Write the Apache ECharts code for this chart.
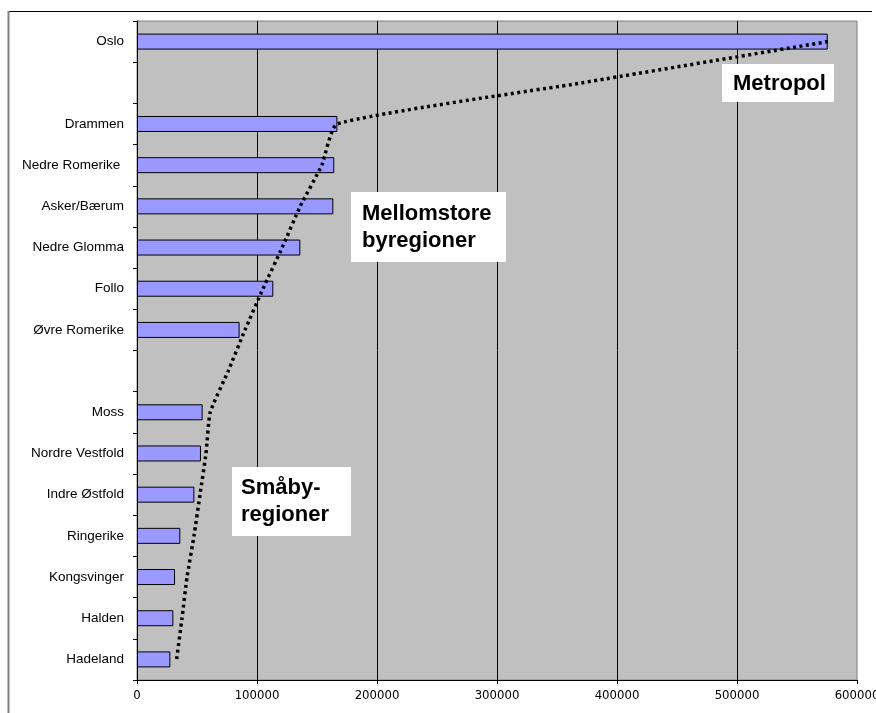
<!DOCTYPE html>
<html>
<head>
<meta charset="utf-8">
<script src="https://cdn.jsdelivr.net/npm/echarts@6/dist/echarts.min.js"></script>
<style>
html,body{margin:0;padding:0;background:#fff;overflow:hidden;}
#chart{width:876px;height:713px;}
</style>
</head>
<body>
<div id="chart"></div>
<script>
// Region names (blank strings are empty spacer rows)
var categories = ['Oslo', ' ', 'Drammen', 'Nedre Romerike ', 'Asker/Bærum', 'Nedre Glomma', 'Follo', 'Øvre Romerike', '  ', 'Moss', 'Nordre Vestfold', 'Indre Østfold', 'Ringerike', 'Kongsvinger', 'Halden', 'Hadeland'];
// Bar values
var population = [575600, null, 167000, 164400, 163600, 136100, 113600, 85500, null, 54700, 53300, 47800, 36100, 31700, 30300, 27800];
// Dotted trend curve values
var trend = [575800, 371000, 166700, 154000, 136000, 121000, 105000, 90000, 76000, 61000, 57500, 52500, 47500, 41700, 37500, 33000];
// X axis ticks
var xTicks = [0, 100000, 200000, 300000, 400000, 500000, 600000];
// Annotation texts
var labelMetropol = 'Metropol';
var labelMellom = 'Mellomstore\nbyregioner';
var labelSmaby = 'Småby-\nregioner';

var chart = echarts.init(document.getElementById('chart'), null, {renderer: 'canvas'});
var boxFont = {fontFamily: 'Liberation Sans, Arial, sans-serif', fontWeight: 'bold', fontSize: 22, lineHeight: 27, fill: '#000'};
function box(x, y, w, h, tx, ty, text) {
  return [
    {type: 'rect', shape: {x: x, y: y, width: w, height: h}, style: {fill: '#fff'}, z: 100},
    {type: 'text', x: tx, y: ty, z: 101, style: Object.assign({text: text, align: 'left', verticalAlign: 'top'}, boxFont)}
  ];
}
var option = {
  animation: false,
  backgroundColor: '#fff',
  grid: {left: 137, right: 19, top: 21, bottom: 33, containLabel: false, outerBoundsMode: 'none', show: true, backgroundColor: '#C0C0C0', borderColor: '#808080', borderWidth: 1},
  xAxis: {
    type: 'value', min: xTicks[0], max: xTicks[xTicks.length - 1], interval: xTicks[1] - xTicks[0],
    axisLine: {show: true, lineStyle: {color: '#000', width: 1}},
    axisTick: {show: true, length: 4, lineStyle: {color: '#000'}},
    axisLabel: {margin: 9, color: '#000', fontFamily: 'Liberation Sans Narrow, DejaVu Sans Condensed, sans-serif', fontSize: 13,
      formatter: function (v) { return String(v); }, showMaxLabel: true},
    splitLine: {show: true, showMinLine: false, showMaxLine: false, lineStyle: {color: '#000', width: 1}}
  },
  yAxis: {
    type: 'category', inverse: true, data: categories,
    axisLine: {show: true, lineStyle: {color: '#000', width: 1}},
    axisTick: {show: true, length: 4, lineStyle: {color: '#000'}},
    axisLabel: {margin: 13, color: '#000', fontFamily: 'Liberation Sans, Arial, sans-serif', fontSize: 13.5},
    splitLine: {show: false}
  },
  series: [
    {
      type: 'bar', data: population, barWidth: 16,
      itemStyle: {color: '#9999FF', borderColor: '#000', borderWidth: 1},
      z: 2
    },
    {
      type: 'line', data: trend, symbol: 'none', smooth: 0.15, connectNulls: true,
      lineStyle: {color: '#000', width: 3.5, type: [3, 3.5], cap: 'butt'},
      z: 5
    }
  ],
  graphic: [
    {type: 'line', shape: {x1: 8, y1: 11.5, x2: 872, y2: 11.5}, style: {stroke: '#000', lineWidth: 1}},
    {type: 'line', shape: {x1: 8.5, y1: 11, x2: 8.5, y2: 713}, style: {stroke: '#808080', lineWidth: 2}}
  ].concat(
    box(722, 64, 112, 38, 733, 70.6, labelMetropol),
    box(351, 192, 155, 70, 362, 200.6, labelMellom),
    box(232, 467, 119, 69, 241, 474, labelSmaby)
  )
};
chart.setOption(option);
</script>
</body>
</html>
